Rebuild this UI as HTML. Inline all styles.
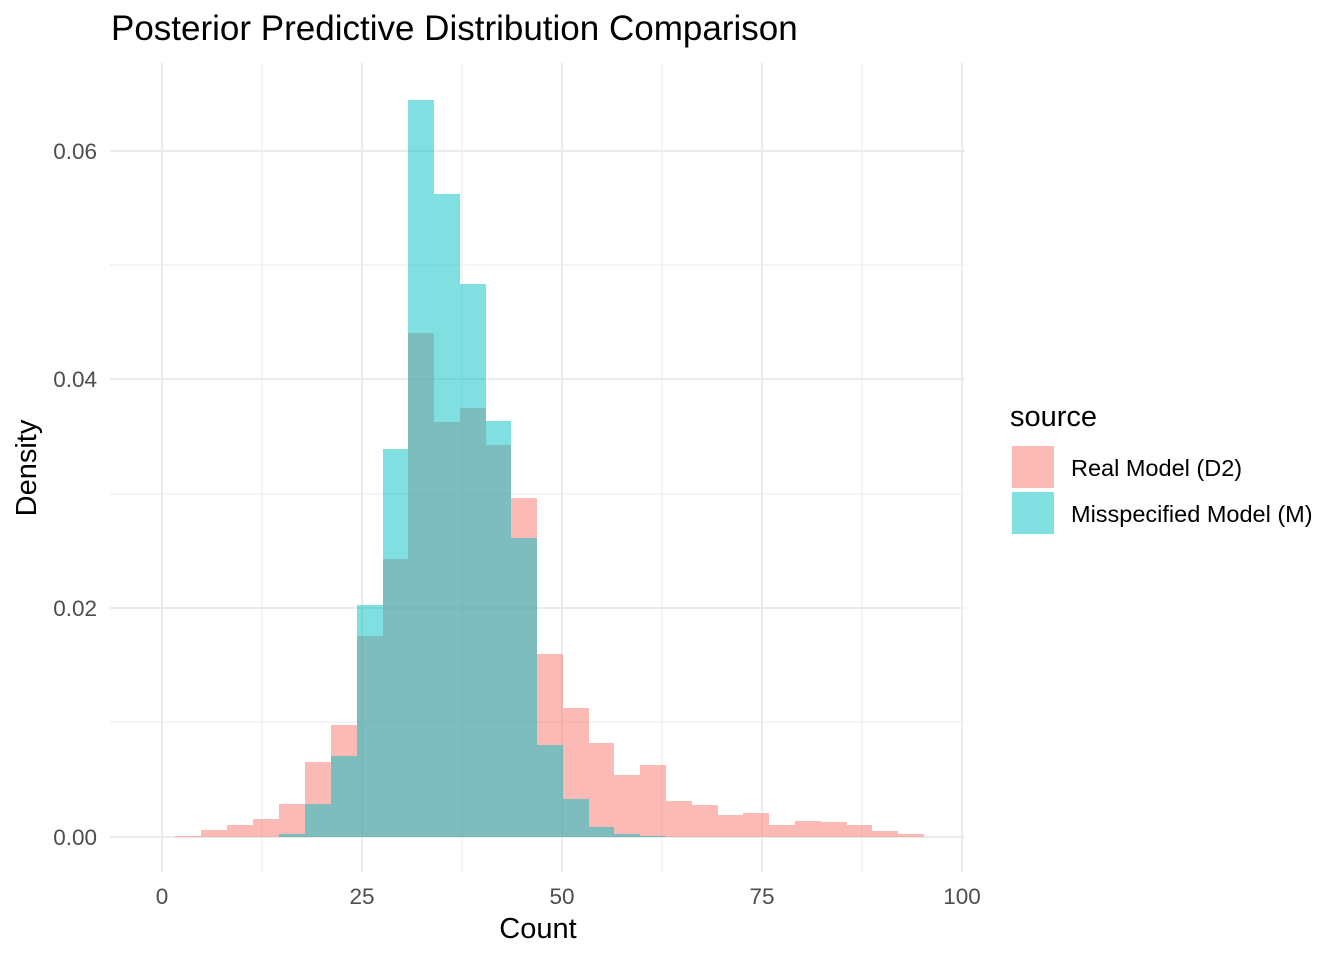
<!DOCTYPE html>
<html><head><meta charset="utf-8"><style>body{margin:0;background:#fff}</style></head><body>
<svg width="1344" height="960" xmlns="http://www.w3.org/2000/svg" font-family="Liberation Sans, sans-serif">
<rect width="1344" height="960" fill="#fff"/>
<g stroke="#EBEBEB" stroke-width="1">
<line x1="110" x2="965" y1="722" y2="722"/><line x1="110" x2="965" y1="494" y2="494"/><line x1="110" x2="965" y1="265" y2="265"/>
<line x1="262" x2="262" y1="63" y2="872"/><line x1="462" x2="462" y1="63" y2="872"/><line x1="662" x2="662" y1="63" y2="872"/><line x1="862" x2="862" y1="63" y2="872"/>
</g>
<g stroke="#EBEBEB" stroke-width="2">
<line x1="110" x2="965" y1="837" y2="837"/><line x1="110" x2="965" y1="608" y2="608"/><line x1="110" x2="965" y1="379" y2="379"/><line x1="110" x2="965" y1="151" y2="151"/>
<line x1="162" x2="162" y1="63" y2="872"/><line x1="362" x2="362" y1="63" y2="872"/><line x1="562" x2="562" y1="63" y2="872"/><line x1="762" x2="762" y1="63" y2="872"/><line x1="962" x2="962" y1="63" y2="872"/>
</g>
<g id="bars"></g>
<g fill="#4D4D4D" font-size="22.5" text-anchor="end">
<text x="97" y="845">0.00</text><text x="97" y="616">0.02</text><text x="97" y="387">0.04</text><text x="97" y="159">0.06</text>
</g>
<g fill="#4D4D4D" font-size="22.5" text-anchor="middle">
<text x="162" y="904">0</text><text x="362" y="904">25</text><text x="562" y="904">50</text><text x="762" y="904">75</text><text x="962" y="904">100</text>
</g>
<text x="538" y="938" font-size="29" text-anchor="middle">Count</text>
<text transform="translate(36,468) rotate(-90)" font-size="29" text-anchor="middle">Density</text>
<text x="111" y="40" font-size="35">Posterior Predictive Distribution Comparison</text>
<text x="1010" y="426" font-size="29">source</text>
<rect x="1012" y="446" width="42" height="42" fill="#F8766D" fill-opacity="0.5"/>
<rect x="1012" y="492" width="42" height="42" fill="#00BFC4" fill-opacity="0.5"/>
<text x="1071" y="476" font-size="23.5">Real Model (D2)</text>
<text x="1071" y="522" font-size="23.5">Misspecified Model (M)</text>
</svg>
<script>
var edges=[175,201,227,253,279,305,331,357,383,408,434,460,486,511,537,563,589,614,640,666,692,718,743,769,795,821,847,872,898,924];
var pink=[836,830,825,819,804,762,725,636,559,333,422,408,445,498,654,708,743,775,765,801,805,815,813,825,821,822,825,831,834];
var teal={4:834,5:804,6:756,7:605,8:449,9:100,10:194,11:284,12:421,13:538,14:745,15:799,16:827,17:834,18:836};
var g=document.getElementById('bars'),s='';
function w(i){return (i+1<edges.length?edges[i+1]:926)-edges[i];}
for(var i=0;i<pink.length;i++)s+='<rect x="'+edges[i]+'" y="'+pink[i]+'" width="'+w(i)+'" height="'+(837-pink[i])+'" fill="#F8766D" fill-opacity="0.5"/>';
for(var k in teal){k=+k;s+='<rect x="'+edges[k]+'" y="'+teal[k]+'" width="'+w(k)+'" height="'+(837-teal[k])+'" fill="#00BFC4" fill-opacity="0.5"/>';}
g.innerHTML=s;
</script>
</body></html>
